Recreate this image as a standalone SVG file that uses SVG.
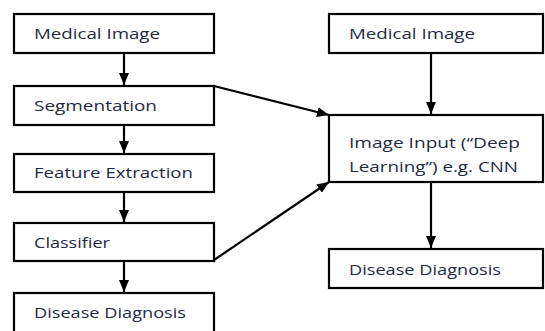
<svg xmlns="http://www.w3.org/2000/svg" width="545" height="331" viewBox="0 0 545 331">
<style>
.box{fill:#fff;stroke:#000;stroke-width:2.2}
.t{font-family:"Open Sans","Liberation Sans",sans-serif;font-size:15px;fill:#1f2a44}
.c{stroke:#000;stroke-width:2.2;fill:none}
</style>
<defs>
<marker id="ah" markerUnits="userSpaceOnUse" markerWidth="13" markerHeight="11" refX="12" refY="5" orient="auto">
<path d="M0,0 L12,5 L0,10 z" fill="#000"/>
</marker>
</defs>
<rect width="545" height="331" fill="#fff"/>
<g id="connectors">
<line class="c" x1="124" y1="53" x2="124" y2="85" marker-end="url(#ah)"/>
<line class="c" x1="124" y1="125" x2="124" y2="153" marker-end="url(#ah)"/>
<line class="c" x1="124" y1="192" x2="124" y2="222" marker-end="url(#ah)"/>
<line class="c" x1="124" y1="261" x2="124" y2="292" marker-end="url(#ah)"/>
<line class="c" x1="431" y1="53" x2="431" y2="114" marker-end="url(#ah)"/>
<line class="c" x1="431" y1="182" x2="431" y2="248" marker-end="url(#ah)"/>
<line class="c" x1="214" y1="86" x2="329" y2="115" marker-end="url(#ah)"/>
<line class="c" x1="214" y1="260" x2="329" y2="182" marker-end="url(#ah)"/>
</g>
<g id="n1"><rect class="box" x="14" y="14" width="200" height="39"/><text class="t" x="34" y="39" textLength="126" lengthAdjust="spacingAndGlyphs">Medical Image</text></g>
<g id="n2"><rect class="box" x="14" y="86" width="200" height="39"/><text class="t" x="34" y="111" textLength="123" lengthAdjust="spacingAndGlyphs">Segmentation</text></g>
<g id="n3"><rect class="box" x="14" y="154" width="200" height="38"/><text class="t" x="34" y="178" textLength="159" lengthAdjust="spacingAndGlyphs">Feature Extraction</text></g>
<g id="n4"><rect class="box" x="14" y="223" width="200" height="38"/><text class="t" x="34" y="248" textLength="76" lengthAdjust="spacingAndGlyphs">Classifier</text></g>
<g id="n5"><rect class="box" x="14" y="293" width="200" height="45"/><text class="t" x="34" y="318" textLength="152" lengthAdjust="spacingAndGlyphs">Disease Diagnosis</text></g>
<g id="n6"><rect class="box" x="329" y="14" width="214" height="39"/><text class="t" x="349" y="39" textLength="126" lengthAdjust="spacingAndGlyphs">Medical Image</text></g>
<g id="n7"><rect class="box" x="329" y="115" width="214" height="67"/><text class="t" x="349" y="148" textLength="171" lengthAdjust="spacingAndGlyphs">Image Input (“Deep</text><text class="t" x="349" y="172" textLength="169" lengthAdjust="spacingAndGlyphs">Learning”) e.g. CNN</text></g>
<g id="n8"><rect class="box" x="329" y="249" width="214" height="39"/><text class="t" x="349" y="275" textLength="152" lengthAdjust="spacingAndGlyphs">Disease Diagnosis</text></g>
</svg>
